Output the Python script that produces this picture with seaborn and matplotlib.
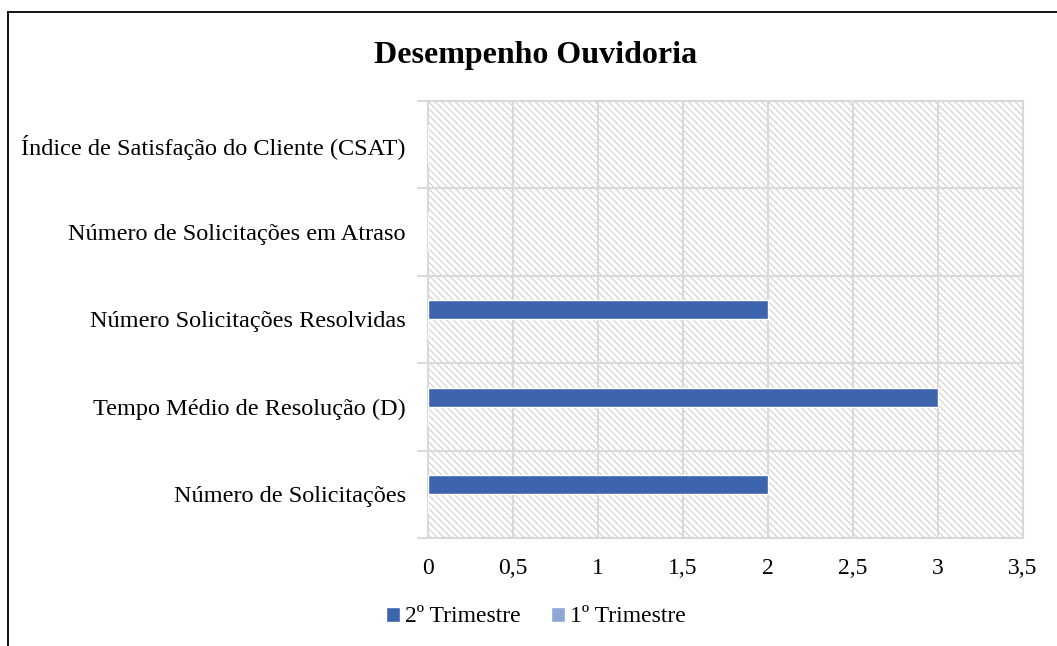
import matplotlib
matplotlib.use("Agg")
import matplotlib.pyplot as plt
from matplotlib.lines import Line2D
from matplotlib.patches import Rectangle
import seaborn as sns
import pandas as pd

# Chart data (top to bottom, as shown on the chart)
indicadores = [
    "Índice de Satisfação do Cliente (CSAT)",
    "Número de Solicitações em Atraso",
    "Número Solicitações Resolvidas",
    "Tempo Médio de Resolução (D)",
    "Número de Solicitações",
]
trimestre_2 = [0, 0, 2, 3, 2]
trimestre_1 = [0, 0, 0, 0, 0]
series_names = ["2º Trimestre", "1º Trimestre"]
x_ticks = [0, 0.5, 1, 1.5, 2, 2.5, 3, 3.5]
x_tick_labels = ["0", "0,5", "1", "1,5", "2", "2,5", "3", "3,5"]

df = pd.DataFrame({
    "indicador": indicadores * 2,
    "valor": trimestre_2 + trimestre_1,
    "trimestre": [series_names[0]] * len(indicadores) + [series_names[1]] * len(indicadores),
})

sns.set_theme(style="white")
plt.rcParams["font.family"] = ["Liberation Serif", "DejaVu Serif"]
plt.rcParams["text.color"] = "black"
plt.rcParams["xtick.labelcolor"] = "black"
plt.rcParams["ytick.labelcolor"] = "black"
plt.rcParams["hatch.linewidth"] = 0.8
plt.rcParams["hatch.color"] = "#d0d0d0"

grid_color = "#d9d9d9"
palette = {"2º Trimestre": "#3e64ad", "1º Trimestre": "#8fa7d8"}

fig = plt.figure(figsize=(10.57, 6.46), dpi=100)
ax = fig.add_axes([428 / 1057, 1 - 538 / 646, (1023 - 428) / 1057, (538 - 101) / 646])

# hatched plot area
ax.add_patch(Rectangle((0, 0), 1, 1, transform=ax.transAxes, facecolor="white",
                       edgecolor="#d0d0d0", hatch="\\" * 5, linewidth=0, zorder=0))

sns.barplot(data=df, y="indicador", x="valor", hue="trimestre",
            hue_order=series_names, order=indicadores, palette=palette,
            orient="h", width=0.44, errorbar=None, ax=ax, zorder=3,
            saturation=1, legend=True)

ax.set_xlim(0, 3.5)
ax.set_ylim(len(indicadores) - 0.5, -0.5)
ax.set_xticks(x_ticks)
ax.set_xticklabels(x_tick_labels, fontsize=17, va="baseline", color="black")
ax.set_yticks(range(len(indicadores)))
ax.set_yticklabels(indicadores, fontsize=17.5, color="black")
ax.set_yticks([i - 0.5 for i in range(len(indicadores) + 1)], minor=True)
ax.set_xlabel("")
ax.set_ylabel("")

ax.tick_params(axis="y", which="major", length=0, pad=16)
ax.tick_params(axis="y", which="minor", length=8, width=1.5, color=grid_color, left=True)
ax.tick_params(axis="x", which="major", length=0, pad=26)

ax.grid(False)
ax.grid(True, axis="x", which="major", color=grid_color, linewidth=1.5, zorder=1)
ax.grid(True, axis="y", which="minor", color=grid_color, linewidth=1.5, zorder=1)
ax.set_axisbelow(True)
for s in ax.spines.values():
    s.set_color(grid_color)
    s.set_linewidth(1.5)

# legend at the bottom
handles, labels = ax.get_legend_handles_labels()
ax.get_legend().remove()
leg = fig.legend(handles, labels, loc="center", bbox_to_anchor=(536 / 1057, 1 - 617 / 646),
                 ncol=2, frameon=False, fontsize=17, handlelength=0.6, handleheight=0.6,
                 handletextpad=0.2, columnspacing=1.3)
for t in leg.get_texts():
    t.set_color("black")

fig.text(536 / 1057, 1 - 55 / 646, "Desempenho Ouvidoria", ha="center", va="center",
         fontsize=23, fontweight="bold", color="black")

# outer frame (left and top edges)
fig.add_artist(Line2D([8 / 1057, 8 / 1057], [0, 1 - 12 / 646], color="black", linewidth=1.3))
fig.add_artist(Line2D([8 / 1057, 1], [1 - 12 / 646, 1 - 12 / 646], color="black", linewidth=1.3))

fig.savefig("out.png", dpi=100)
